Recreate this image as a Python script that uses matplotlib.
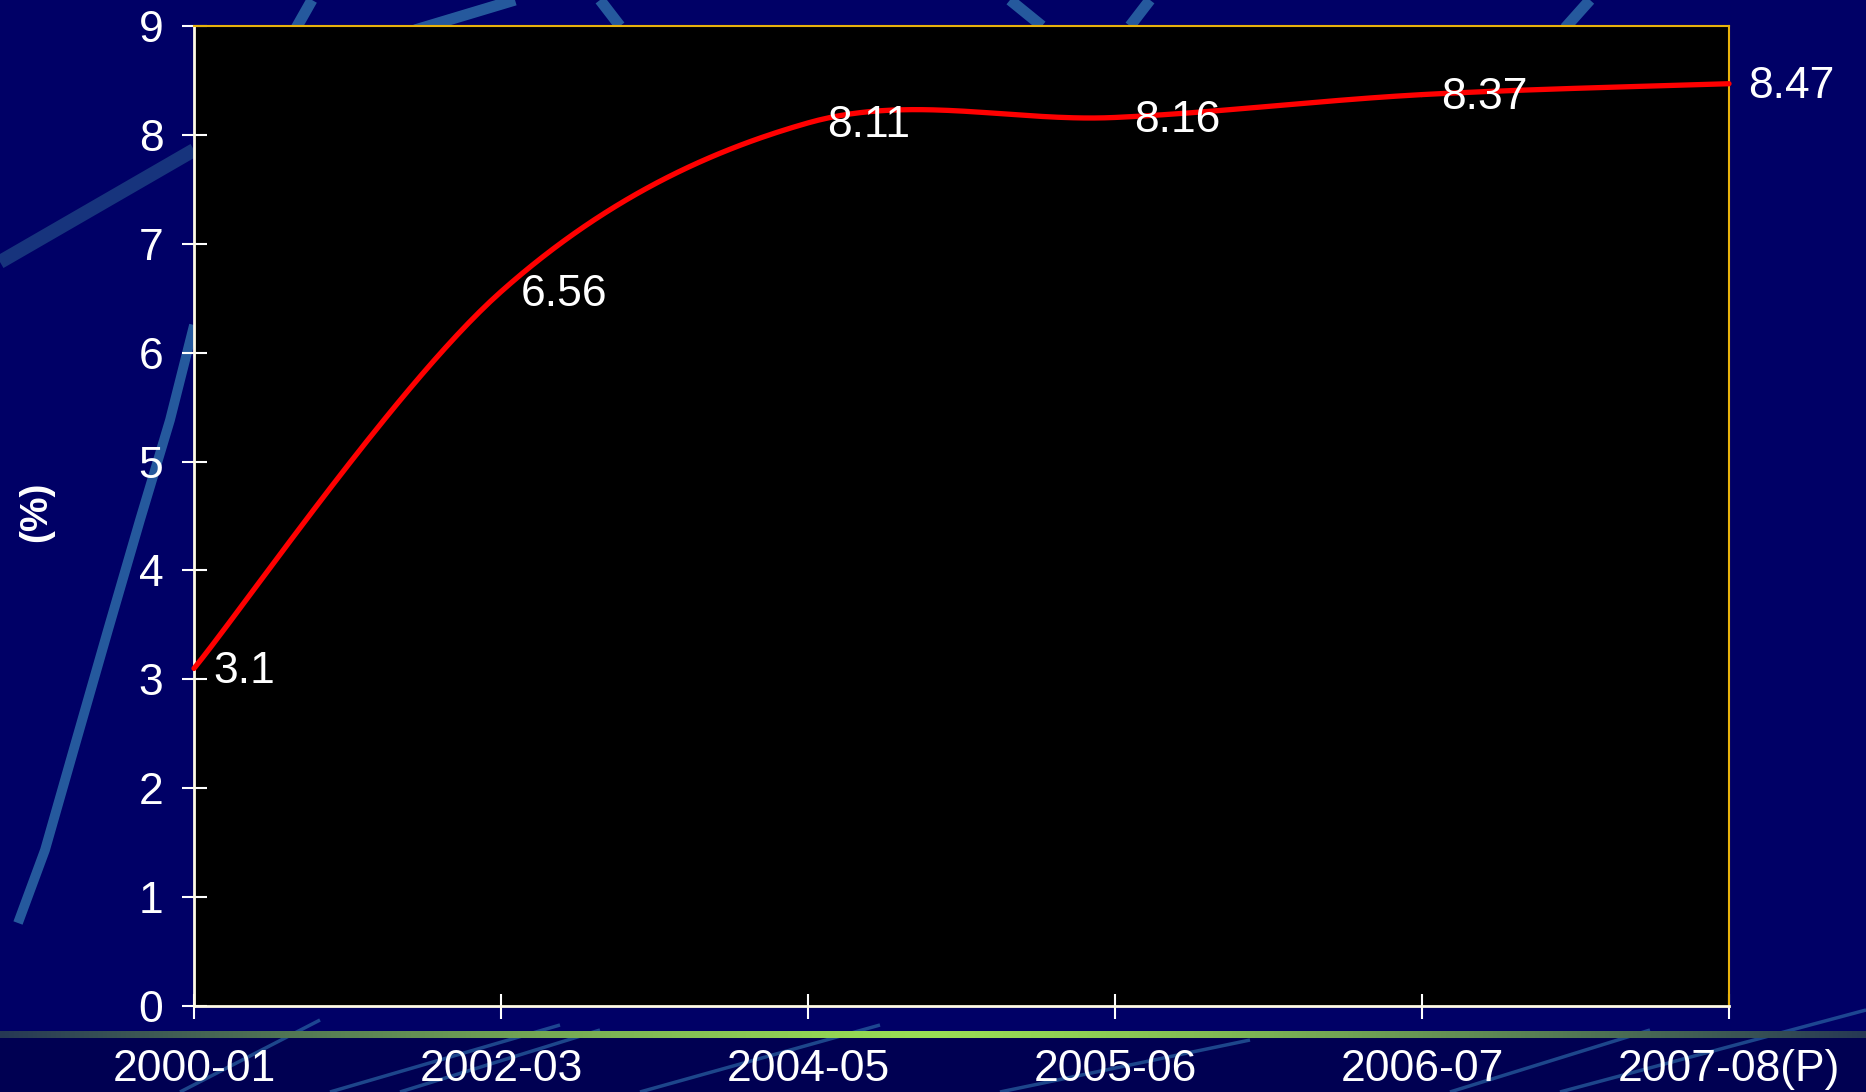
#Smoothed line chart on a slide-style background
import numpy as np
import matplotlib
matplotlib.use('Agg')
import matplotlib.pyplot as plt
from matplotlib.lines import Line2D
from matplotlib.patches import Rectangle

plt.rcParams['font.family'] = ['Liberation Sans', 'DejaVu Sans']

#Data
years = ['2000-01', '2002-03', '2004-05', '2005-06', '2006-07', '2007-08(P)']
values = [3.1, 6.56, 8.11, 8.16, 8.37, 8.47]
y_ticks = [0, 1, 2, 3, 4, 5, 6, 7, 8, 9]

#Colours
navy = '#000066'
streak = '#2a64a4'
gold = '#e8b20c'
cream = '#fffbe6'

W, H = 1866, 1092
fig = plt.figure(figsize=(W/100, H/100), dpi=100, facecolor=navy)

def px(x, y):
    return x/W, 1 - y/H

#Darker band at the bottom of the slide
fig.add_artist(Rectangle(px(0, H), 1, 58/H, transform=fig.transFigure,
                         color='#000052', zorder=0))

#Background streaks (decoration only)
streaks = [
    ([(0, 262), (194, 150)], 10, '#1a3a80', 0.9),
    ([(194, 325), (170, 420), (140, 520), (108, 630), (75, 745), (45, 850), (18, 923)], 7, streak, 0.9),
    ([(295, 30), (312, 0)], 8, streak, 0.9),
    ([(415, 30), (515, 0)], 8, streak, 0.9),
    ([(600, 0), (620, 26)], 8, streak, 0.9),
    ([(1010, 0), (1042, 26)], 8, streak, 0.9),
    ([(1130, 26), (1150, 0)], 8, streak, 0.9),
    ([(1565, 28), (1590, 0)], 8, streak, 0.9),
    ([(180, 1092), (320, 1020)], 2.5, streak, 0.7),
    ([(330, 1092), (560, 1025)], 2.5, streak, 0.7),
    ([(400, 1092), (600, 1030)], 2.5, streak, 0.7),
    ([(640, 1092), (880, 1025)], 2.5, streak, 0.7),
    ([(1000, 1092), (1250, 1040)], 2.5, streak, 0.7),
    ([(1450, 1092), (1650, 1030)], 2.5, streak, 0.7),
    ([(1560, 1092), (1866, 1010)], 2.5, streak, 0.7),
]
for pts, lw, col, a in streaks:
    xs, ys = zip(*[px(p, q) for p, q in pts])
    fig.add_artist(Line2D(xs, ys, transform=fig.transFigure, color=col,
                          lw=lw, alpha=a, solid_capstyle='butt', zorder=0.5))

#Green gradient bar
gax = fig.add_axes([0, 1 - 1038/H, 1, 7/H], zorder=1)
t = np.linspace(-1, 1, 400)
w = np.clip(1 - np.abs(t)**1.3, 0, 1)
c0 = np.array([0.15, 0.22, 0.33])
c1 = np.array([0.60, 0.87, 0.33])
grad = (c0[None, :]*(1 - w[:, None]) + c1[None, :]*w[:, None])[None, :, :]
gax.imshow(grad, aspect='auto', extent=[0, 1, 0, 1])
gax.axis('off')

#Main axes
l, r, top, bot = 194, 1729, 26, 1006
ax = fig.add_axes([l/W, 1 - bot/H, (r - l)/W, (bot - top)/H], zorder=2)
ax.set_facecolor('black')

#Smoothed (Catmull-Rom) curve through the points, like the office "smoothed line"
x = np.arange(len(values))
y = np.array(values)
xp = np.concatenate([[x[0]], x, [x[-1]]])
yp = np.concatenate([[y[0]], y, [y[-1]]])
sx, sy = [], []
s = np.linspace(0, 1, 60)
for i in range(1, len(xp) - 2):
    p0, p1, p2, p3 = yp[i-1], yp[i], yp[i+1], yp[i+2]
    q0, q1, q2, q3 = xp[i-1], xp[i], xp[i+1], xp[i+2]
    for arr, a0, a1, a2, a3 in ((sy, p0, p1, p2, p3), (sx, q0, q1, q2, q3)):
        arr.extend(0.5*((2*a1) + (-a0 + a2)*s + (2*a0 - 5*a1 + 4*a2 - a3)*s**2
                        + (-a0 + 3*a1 - 3*a2 + a3)*s**3))
ax.plot(sx, sy, color='red', lw=3.8, solid_capstyle='round', zorder=3, clip_on=False)

#Value labels
for xi, v in zip(x, values):
    ax.annotate(f'{v:g}', (xi, v), xytext=(14, -2), textcoords='offset points',
                ha='left', va='center', color='white', fontsize=32, zorder=4,
                annotation_clip=False)

ax.set_xlim(0, len(values) - 1)
ax.set_ylim(0, 9)
ax.set_xticks(x)
ax.set_xticklabels(years)
ax.set_yticks(y_ticks)

ax.tick_params(axis='both', colors='white', labelcolor='white', labelsize=32,
               direction='inout', length=18, width=1.5)
ax.tick_params(axis='x', pad=22)
ax.tick_params(axis='y', pad=13)

for side in ['left', 'bottom']:
    ax.spines[side].set_color(cream)
    ax.spines[side].set_linewidth(2)
for side in ['top', 'right']:
    ax.spines[side].set_color(gold)
    ax.spines[side].set_linewidth(1.5)

fig.text(36/W, 1 - 512/H, '(%)', rotation=90, ha='center', va='center',
         color='white', fontsize=28, fontweight='bold')

plt.savefig('out.png', dpi=100, facecolor=navy)
